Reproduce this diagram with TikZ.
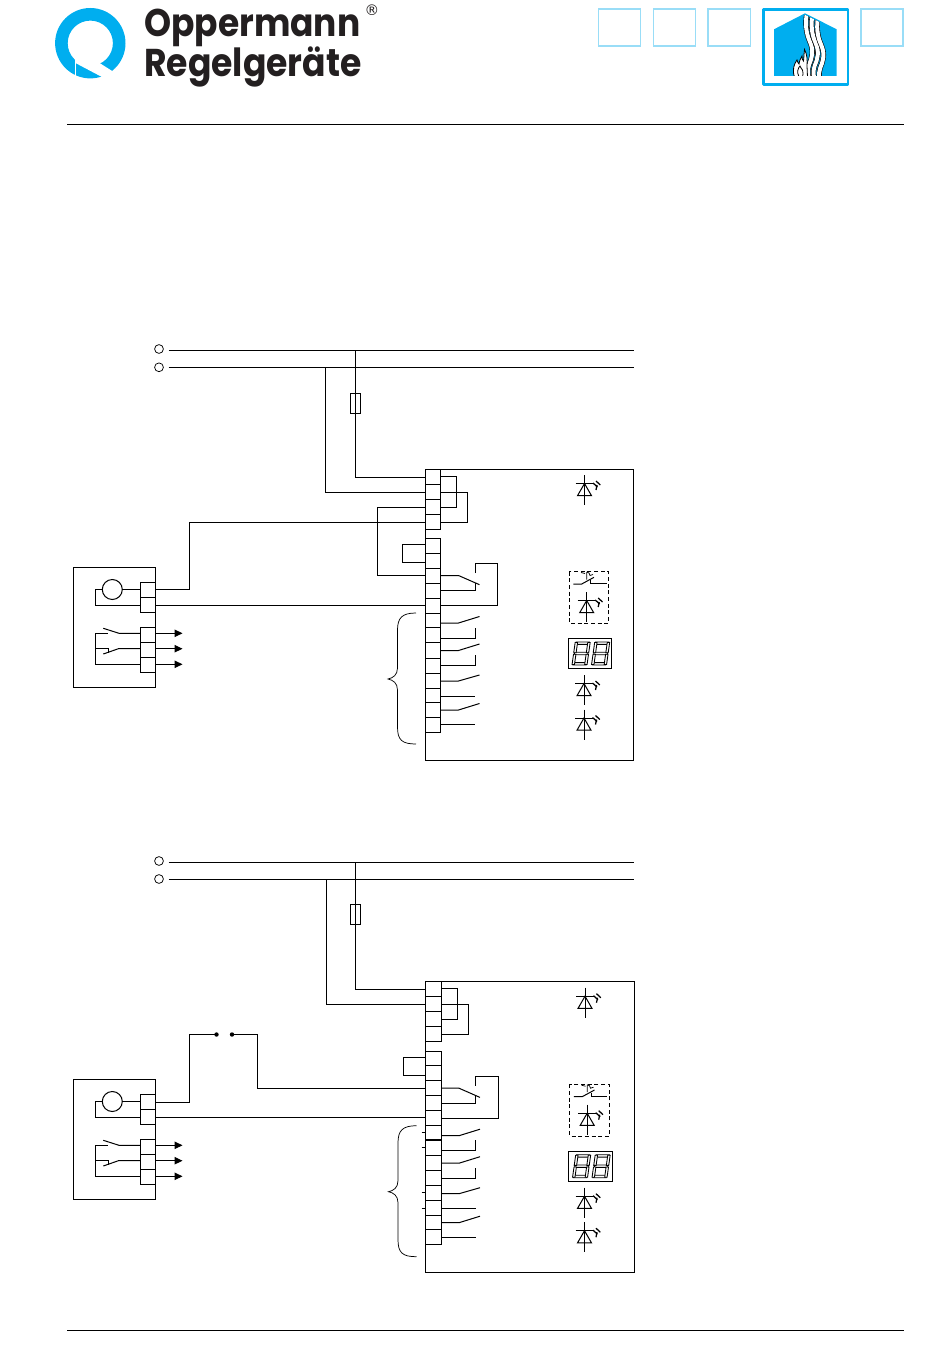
\documentclass[tikz,border=0pt]{standalone}
\usepackage{fontspec}
\usetikzlibrary{arrows.meta}
\setmainfont{Poppins}
\newfontfamily\symfont{DejaVu Sans}
\definecolor{logoblue}{HTML}{00AEEF}
\definecolor{paleblue}{HTML}{99DDF7}
\definecolor{logoink}{HTML}{231F20}
\tikzset{
  wire/.style={line width=0.75pt,black,line join=miter},
  thin wire/.style={line width=0.55pt,black},
  railterm/.style={circle,draw,line width=0.55pt,inner sep=0pt,minimum size=6.6pt,fill=white},
  fusebox/.style={rectangle,draw,line width=0.75pt,inner sep=0pt,minimum width=6.9pt,minimum height=15pt,fill=white},
  pale box/.style={draw=paleblue,line width=1.1pt},
  seg/.style={draw=black,line width=0.65pt,fill=white},
}
% light emitting diode: #1,#2 = crossing of bar and stem
\newcommand{\ledsym}[2]{%
  \begin{scope}[shift={(#1,#2)}]
    \draw[wire] (0,-8.5) -- (0,21.5);
    \draw[wire] (-9,0) -- (9,0);
    \draw[wire] (0,0) -- (-7,12.2) -- (7,12.2) -- cycle;
    \draw[line width=0.95pt] (8.5,-0.5) -- (13,3.5) (11.5,-2.5) -- (15.8,1.5) (12.5,1.5) -- (11.5,6.5);
  \end{scope}}
% seven segment digit, origin at its lower left corner
\newcommand{\digitsym}[2]{%
  \begin{scope}[shift={(#1,#2)},xslant=0.14]
    \path[seg] (0.8,-23) rectangle (14.2,-20.6);
    \path[seg] (0.8,-12.7) rectangle (14.2,-10.3);
    \path[seg] (0.8,-2.4) rectangle (14.2,0);
    \path[seg] (0,-22.5) rectangle (2.4,-12.3);
    \path[seg] (12.6,-22.5) rectangle (15,-12.3);
    \path[seg] (0,-10.7) rectangle (2.4,-0.5);
    \path[seg] (12.6,-10.7) rectangle (15,-0.5);
  \end{scope}}
% relay outputs, terminal blocks, indicators of the control unit
\newcommand{\controlunit}{%
  \draw[wire] (425,469) rectangle (633.5,760);
  \draw[wire,fill=white] (425,469) rectangle (440.5,529);
  \foreach \yy in {484,499,514} \draw[wire] (425,\yy) -- (440.5,\yy);
  \draw[wire,fill=white] (425,538.5) rectangle (440.5,732);
  \foreach \yy in {553,568,583,598,613,627.5,642.5,658,673,688,702.5,717} \draw[wire] (425,\yy) -- (440.5,\yy);
  \draw[wire] (402.5,544.5) rectangle (425,562.5);
  \draw[wire] (440.5,476) -- (456.5,476) -- (456.5,507) -- (440.5,507);
  \draw[wire] (440.5,492) -- (467.5,492) -- (467.5,522) -- (440.5,522);
  \draw[wire] (440.5,575.5) -- (458.5,575.5) -- (479.5,584.7);
  \draw[wire] (440.5,590.5) -- (475,590.5) -- (475,582.5);
  \draw[wire] (475,573) -- (475,563.5) -- (497.5,563.5) -- (497.5,605.5) -- (440.5,605.5);
  \draw[wire] (440.5,623) -- (458.5,623) -- (479.5,616.5);
  \draw[wire] (440.5,638) -- (475,638) -- (475,627.5);
  \draw[wire] (440.5,650.5) -- (458.5,650.5) -- (479.5,644);
  \draw[wire] (440.5,665.5) -- (475,665.5) -- (475,655);
  \draw[wire] (440.5,681) -- (458.5,681) -- (479.5,675);
  \draw[wire] (440.5,696) -- (475,696);
  \draw[wire] (440.5,710) -- (458.5,710) -- (479.5,703.5);
  \draw[wire] (440.5,724.5) -- (475,724.5);
  \draw[thin wire] (416,613) .. controls (402,613) and (397.5,618) .. (397.5,630) -- (397.5,668)
     .. controls (397.5,675) and (393,678) .. (388,679)
     .. controls (393,680) and (397.5,683) .. (397.5,690) -- (397.5,727)
     .. controls (397.5,740) and (402,744) .. (416,744);
  \ledsym{584.5}{483.5}
  \ledsym{586.7}{600.5}
  \ledsym{584}{683.5}
  \ledsym{584}{718}
  \draw[wire,dash pattern=on 3pt off 2pt] (569.3,571.7) rectangle (608.7,623.3);
  \draw[wire] (573.3,584) -- (581.7,584) -- (594,577.3);
  \draw[wire] (590.7,580) -- (590.7,583.8) -- (606.7,583.8);
  \draw[thin wire] (581,572.5) -- (585,573.5) (586.7,572) -- (586.7,579.5) (586.7,572) -- (589,573) -- (590,575.5) -- (593,574.5);
  \draw[wire] (568.3,638.3) rectangle (611.7,668.7);
  \digitsym{572}{665}
  \digitsym{591.5}{665}
}
% field device with its terminals
\newcommand{\fielddevice}{%
  \draw[wire] (73.3,567.3) rectangle (155,687.3);
  \draw[wire] (140.3,582.3) rectangle (155,612);
  \draw[wire] (140.3,597) -- (155,597);
  \draw[wire] (140.3,627.3) rectangle (155,672.7);
  \draw[wire] (140.3,642.3) -- (155,642.3) (140.3,657.5) -- (155,657.5);
  \draw[wire] (112.3,589.5) circle [radius=10];
  \draw[wire] (122.3,589.5) -- (140.3,589.5);
  \draw[wire] (102.3,589.5) -- (95,589.5) -- (95,605) -- (140.3,605);
  \draw[wire] (140.3,633.3) -- (119,633.3) -- (103.3,628.3);
  \draw[wire] (107.7,633.3) -- (95,633.3) -- (95,664.5) -- (140.3,664.5);
  \draw[wire] (140.3,648.5) -- (119,648.5) -- (103.3,654);
  \draw[wire] (95,648.5) -- (108.3,648.5) -- (108.3,653);
  \foreach \yy in {633.3,648.7,664.3}
    \draw[wire,-{Triangle[length=6pt,width=5.6pt]}] (155,\yy) -- (182.5,\yy);
}
\begin{document}
\begin{tikzpicture}[x=0.75pt,y=-0.75pt]
\useasboundingbox (0,0) rectangle (950,1369);
% header rules
\coordinate (ruleTL) at (67,124.5); \coordinate (ruleTR) at (903.5,124.5);
\coordinate (ruleBL) at (67,1330); \coordinate (ruleBR) at (903.5,1330);
\draw[thin wire] (ruleTL) -- (ruleTR);
\draw[thin wire] (ruleBL) -- (ruleBR);
% logo mark
\fill[logoblue,even odd rule] (90.3,43.2) circle [radius=35.2] (90.3,43.2) circle [radius=22.6];
\fill[white] (76,63.3) -- (76,58) -- (100,58) -- (100,63.3) -- (118,74.7) -- (112,82.3) -- cycle;
\fill[white] (74.9,58) rectangle (76,82);
% logo text
\node[anchor=base west,inner sep=0pt,text=logoink] (logoA) at (144,37)
  {\scalebox{1}[1.12]{\resizebox{162pt}{!}{\bfseries Oppermann}}};
\node[anchor=base west,inner sep=0pt,text=logoink] (logoB) at (144,76.5)
  {\scalebox{1}[1.12]{\resizebox{163pt}{!}{\bfseries Regelgeräte}}};
\node[inner sep=0pt,text=logoink] (logoR) at (372,10) {\symfont\fontsize{11pt}{12pt}\selectfont ®};
% pictogram row
\draw[pale box] (598.3,9) rectangle (640.7,46);
\draw[pale box] (653.3,9) rectangle (695.7,46);
\draw[pale box] (708,9) rectangle (750.3,46);
\draw[pale box] (861,9) rectangle (903,46);
\draw[logoblue,line width=2.2pt,line join=round] (763.2,9.5) rectangle (848,84.8);
\fill[logoblue] (774,29.3) -- (805,13.3) -- (836.7,29.3) -- (836.7,76) -- (774,76) -- cycle;
\begin{scope}
  \clip (774,30.8) -- (805,14.8) -- (836.7,30.8) -- (836.7,76) -- (774,76) -- cycle;
  \foreach \dx/\dy in {0/0,5.6/1,11.2/3}{
    \begin{scope}[shift={(\dx,\dy)}]
      \draw[black,line width=3.9pt] (807,12) .. controls (805,24) and (806,33) .. (810,42) .. controls (814,51) and (812,58) .. (809,65) .. controls (807,71) and (808,76) .. (810,82);
      \draw[white,line width=3pt] (807,12) .. controls (805,24) and (806,33) .. (810,42) .. controls (814,51) and (812,58) .. (809,65) .. controls (807,71) and (808,76) .. (810,82);
    \end{scope}}
  \draw[black,line width=0.6pt,fill=white] (794.5,77) .. controls (792,70) and (794,64) .. (797,60) .. controls (797.5,62) and (798,63) .. (799,64)
     .. controls (799.5,60) and (801,58) .. (802,56) .. controls (802,59) and (802.5,60) .. (803.5,61)
     .. controls (804,57) and (804,53) .. (804.5,49.5) .. controls (807,54) and (807.5,60) .. (807,66) -- (807.5,77) -- cycle;
  \draw[black,line width=0.6pt] (799,77) .. controls (796.5,72) and (798,68) .. (800,66) .. controls (800.5,69) and (802,68) .. (802.5,70) .. controls (803.5,72) and (803,75) .. (802.5,77);
\end{scope}
% --- upper circuit ---
\node[railterm] (a1) at (159,349) {};
\node[railterm] (a2) at (159,367.3) {};
\coordinate (a1r) at (168.5,350.5); \coordinate (a1e) at (633.5,350.5);
\coordinate (a2r) at (168.5,367.5); \coordinate (a2e) at (633.5,367.5);
\draw[wire] (a1r) -- (a1e);
\draw[wire] (a2r) -- (a2e);
\controlunit
\fielddevice
\draw[line width=1.1pt] (425,627.5) -- (440.5,627.5) (425,642.5) -- (440.5,642.5);
\node[fusebox] (fa) at (355.5,403) {};
\draw[wire] (355.5,350.5) -- (fa.north);
\draw[wire] (fa.south) -- (355.5,477.5) -- (425,477.5);
\draw[wire] (fa.north) -- (fa.south);
\draw[wire] (325.5,367.5) -- (325.5,492.5) -- (425,492.5);
\draw[wire] (425,507) -- (377.5,507) -- (377.5,575) -- (425,575);
\draw[wire] (425,522) -- (189.5,522) -- (189.5,589.5) -- (155,589.5);
\draw[wire] (155,605) -- (425,605);
% --- lower circuit ---
\node[railterm] (b1) at (159,861) {};
\node[railterm] (b2) at (159,879) {};
\coordinate (b1r) at (168.5,862); \coordinate (b1e) at (634,862);
\coordinate (b2r) at (168.5,879.5); \coordinate (b2e) at (634,879.5);
\draw[wire] (b1r) -- (b1e);
\draw[wire] (b2r) -- (b2e);
\begin{scope}[shift={(0.5,512.7)}]
  \controlunit
  \draw[line width=1.1pt] (425,627.5) -- (440.5,627.5);
  \foreach \yy in {619.5,634.5,679.5,695.5} \draw[wire] (421,\yy) -- (425,\yy);
\end{scope}
\begin{scope}[shift={(0,512)}]
  \fielddevice
\end{scope}
\node[fusebox] (fb) at (355.5,914.5) {};
\draw[wire] (355.5,862) -- (fb.north);
\draw[wire] (fb.south) -- (355.5,989.3) -- (425.5,989.3);
\draw[wire] (fb.north) -- (fb.south);
\draw[wire] (326.5,879.5) -- (326.5,1004.3) -- (425.5,1004.3);
\coordinate (c1) at (216.5,1034.5); \coordinate (c2) at (232,1034.5);
\fill (c1) circle [radius=2.2];
\fill (c2) circle [radius=2.2];
\draw[wire] (c1) -- (189.5,1034.5) -- (189.5,1102.3) -- (155,1102.3);
\draw[wire] (c2) -- (257.7,1034.5) -- (257.7,1088.3) -- (425.5,1088.3);
\draw[wire] (155,1117.3) -- (425.5,1117.3);
\end{tikzpicture}
\end{document}
